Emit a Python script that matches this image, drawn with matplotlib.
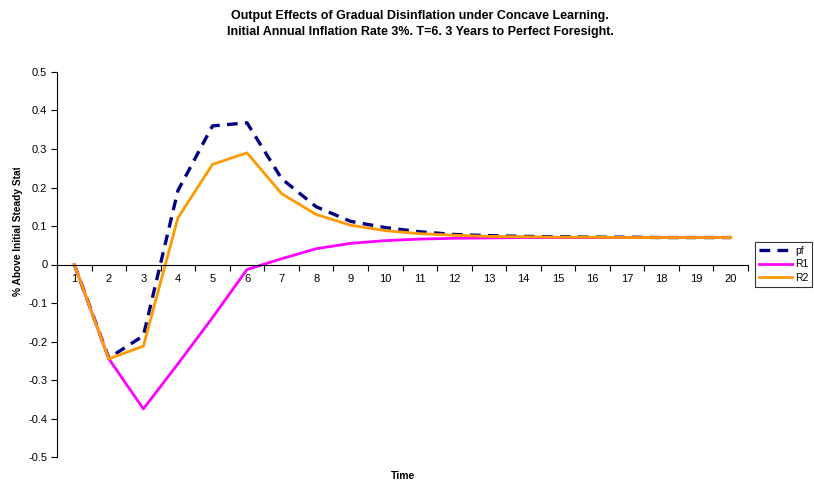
import numpy as np
import matplotlib
matplotlib.use("Agg")
import matplotlib.pyplot as plt
from matplotlib.ticker import FixedLocator, FuncFormatter
from matplotlib.transforms import Bbox

plt.rcParams['font.family'] = ['Liberation Sans', 'DejaVu Sans']

periods = list(range(1, 21))
pf = [0.0, -0.243, -0.185, 0.192, 0.360, 0.368, 0.223, 0.150, 0.112, 0.096,
      0.085, 0.078, 0.075, 0.073, 0.072, 0.071, 0.071, 0.070, 0.070, 0.070]
r1 = [0.0, -0.245, -0.375, -0.258, -0.138, -0.013, 0.015, 0.041, 0.055, 0.062,
      0.066, 0.068, 0.069, 0.070, 0.070, 0.070, 0.070, 0.070, 0.070, 0.070]
r2 = [0.0, -0.245, -0.212, 0.121, 0.260, 0.290, 0.184, 0.130, 0.102, 0.088,
      0.080, 0.076, 0.073, 0.072, 0.071, 0.071, 0.070, 0.070, 0.070, 0.070]
yticks = [-0.5, -0.4, -0.3, -0.2, -0.1, 0, 0.1, 0.2, 0.3, 0.4, 0.5]

W, H = 814, 486
fig = plt.figure(figsize=(W / 100, H / 100), dpi=100)
ax = fig.add_axes([57 / W, 1 - 457 / H, (748 - 57) / W, (457 - 72) / H])

ax.plot(periods, pf, color='#000080', lw=2.4, dashes=(3.2, 2.2), label='pf')
ax.plot(periods, r1, color='#FF00FF', lw=2.0, label='R1')
ax.plot(periods, r2, color='#FF9900', lw=2.0, label='R2')

ax.set_xlim(0.5, 20.5)
ax.set_ylim(-0.5, 0.5)

for s in ['top', 'right']:
    ax.spines[s].set_visible(False)
ax.spines['bottom'].set_position(('data', 0))
ax.spines['bottom'].set_linewidth(0.8)
ax.spines['left'].set_linewidth(0.8)

ax.xaxis.set_major_locator(FixedLocator(periods))
ax.xaxis.set_minor_locator(FixedLocator(np.arange(0.5, 21, 1)))
ax.tick_params(axis='x', which='major', length=0, pad=7, labelsize=8)
ax.tick_params(axis='x', which='minor', length=4, width=0.8, direction='out')

ax.yaxis.set_major_locator(FixedLocator(yticks))
ax.yaxis.set_major_formatter(FuncFormatter(lambda v, p: '0' if abs(v) < 1e-9 else f'{v:g}'))
ax.tick_params(axis='y', length=4, width=0.8, labelsize=8, pad=3)

fig.text(420 / W, 1 - 24 / H,
         'Output Effects of Gradual Disinflation under Concave Learning.\n'
         'Initial Annual Inflation Rate 3%. T=6. 3 Years to Perfect Foresight.',
         ha='center', va='center', fontsize=9, fontweight='bold', linespacing=1.45)
fig.text(403 / W, 1 - 476 / H, 'Time', ha='center', va='center',
         fontsize=7.5, fontweight='bold')
# y label is cut off at the top, as in the original
yl = fig.text(18 / W, 1 - 296 / H, '% Above Initial Steady State', rotation=90,
              ha='center', va='bottom', fontsize=7.3, fontweight='bold')
yl.set_clip_box(Bbox.from_extents(0, 0, 40, H - 168))
yl.set_clip_on(True)

leg = fig.legend(loc='upper left', bbox_to_anchor=(755 / W, 1 - 242 / H),
                 fontsize=7.5, frameon=True, fancybox=False, handlelength=3.2,
                 borderpad=0.35, labelspacing=0.35, handletextpad=0.3,
                 borderaxespad=0)
leg.get_frame().set_edgecolor('black')
leg.get_frame().set_linewidth(0.8)

fig.savefig('out.png', dpi=100)
